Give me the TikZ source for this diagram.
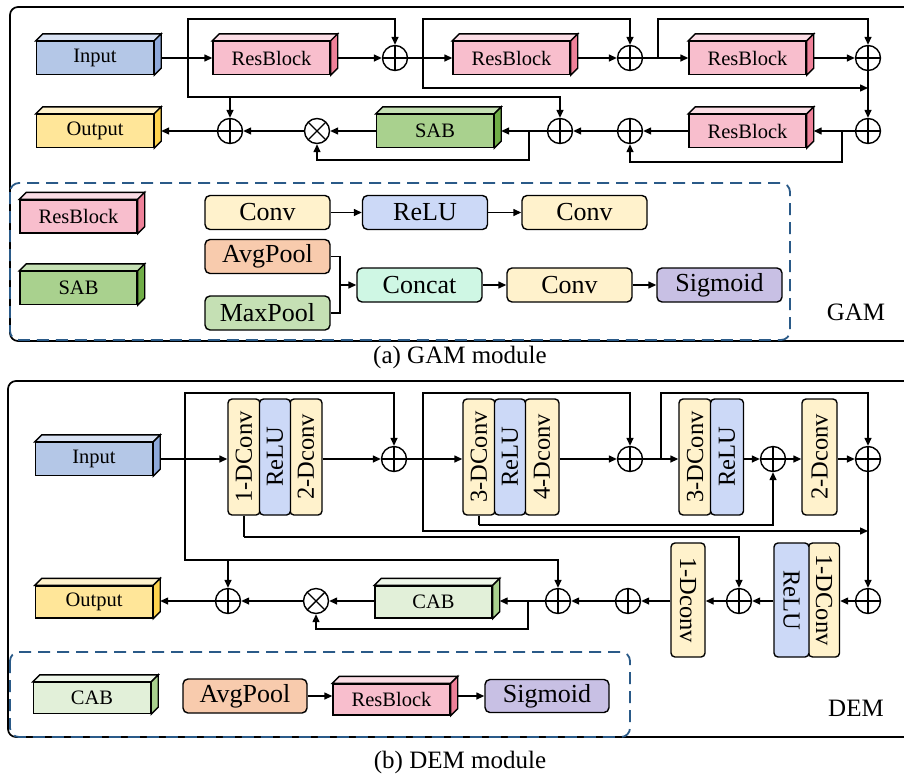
\documentclass[tikz,border=0pt]{standalone}
\usepackage{fontspec}
\setmainfont{Liberation Serif}
\usetikzlibrary{arrows.meta, calc}

\definecolor{inF}{HTML}{B4C7E7}
\definecolor{inT}{HTML}{D9E2F3}
\definecolor{inS}{HTML}{8EA9DB}
\definecolor{outF}{HTML}{FFE699}
\definecolor{outT}{HTML}{FFF2CC}
\definecolor{outS}{HTML}{FFD34D}
\definecolor{rbF}{HTML}{F8BECD}
\definecolor{rbT}{HTML}{FBDDE5}
\definecolor{rbS}{HTML}{EE8199}
\definecolor{sabF}{HTML}{A9D18E}
\definecolor{sabT}{HTML}{C5E0B4}
\definecolor{sabS}{HTML}{70AD47}
\definecolor{cabF}{HTML}{E2F0D9}
\definecolor{cabT}{HTML}{EFF7EA}
\definecolor{cabS}{HTML}{A9D18E}
\definecolor{convF}{HTML}{FFF2CC}
\definecolor{reluF}{HTML}{CCD9F7}
\definecolor{avgF}{HTML}{F8CBAD}
\definecolor{maxF}{HTML}{C5E0B4}
\definecolor{catF}{HTML}{CFF7E4}
\definecolor{sigF}{HTML}{C8C0E4}
\definecolor{dashblue}{HTML}{2A5A88}

\tikzset{
  wire/.style={line width=1.4pt},
  arr/.style={wire, -{Triangle[length=8pt,width=7pt]}},
  blk/.style={draw, line width=1.4pt, minimum width=117pt, minimum height=33pt, inner sep=0pt, font=\fontsize{20.5}{22}\selectfont},
  rbox/.style={draw, line width=1.4pt, rounded corners=5pt, minimum width=125pt, minimum height=34pt, inner sep=0pt, font=\fontsize{26}{28}\selectfont},
  spart/.style={draw, line width=1.4pt, rounded corners=4pt, minimum height=116pt, inner sep=0pt, font=\fontsize{24.5}{26}\selectfont},
  oplus/.style={circle, draw, line width=1.4pt, minimum size=25pt, inner sep=0pt,
    path picture={\draw[line width=1.4pt] (path picture bounding box.north) -- (path picture bounding box.south)
      (path picture bounding box.west) -- (path picture bounding box.east);}},
  otimes/.style={circle, draw, line width=1.4pt, minimum size=25pt, inner sep=0pt,
    path picture={\draw[line width=1.4pt] ([shift={(-9pt,-9pt)}]path picture bounding box.center) -- ([shift={(9pt,9pt)}]path picture bounding box.center)
      ([shift={(-9pt,9pt)}]path picture bounding box.center) -- ([shift={(9pt,-9pt)}]path picture bounding box.center);}},
  frame/.style={line width=1.7pt, rounded corners=8pt},
  dashbox/.style={draw=dashblue, line width=1.8pt, dash pattern=on 12pt off 7pt, rounded corners=9pt},
  label/.style={font=\fontsize{25}{27}\selectfont},
}

% top and side faces of a block
\newcommand{\cubefaces}[3]{%
  \draw[line width=1.4pt, fill=#2] (#1.north west) -- ++(7pt,7pt) -- ([shift={(7pt,7pt)}]#1.north east) -- (#1.north east) -- cycle;
  \draw[line width=1.4pt, fill=#3] (#1.north east) -- ++(7pt,7pt) -- ([shift={(7pt,7pt)}]#1.south east) -- (#1.south east) -- cycle;}

\begin{document}
\begin{tikzpicture}[x=1pt, y=-1pt]
\useasboundingbox (0,0) rectangle (904,774);

%% (a) GAM
\draw[frame] (904,7) -- (10,7) -- (10,341) -- (904,341);
\draw[dashbox] (10,183) rectangle (790,340);

\node[blk, fill=inF] (inA) at (95,58) {Input};
\node[blk, fill=rbF] (rb1) at (271.5,58) {ResBlock};
\node[oplus] (p1) at (395,58) {};
\node[blk, fill=rbF] (rb2) at (511.5,58) {ResBlock};
\node[oplus] (p2) at (630,58) {};
\node[blk, fill=rbF] (rb3) at (747.5,58) {ResBlock};
\node[oplus] (p3) at (868,58) {};
\node[oplus] (p4) at (868,131) {};
\node[blk, fill=rbF] (rb4) at (747.5,131) {ResBlock};
\node[oplus] (p5) at (630,131) {};
\node[oplus] (p6) at (560,131) {};
\node[blk, fill=sabF] (sab) at (435,131) {SAB};
\node[otimes] (tA) at (317,131) {};
\node[oplus] (p7) at (230,131) {};
\node[blk, fill=outF] (outA) at (95,131) {Output};
\cubefaces{inA}{inT}{inS}
\cubefaces{rb1}{rbT}{rbS}
\cubefaces{rb2}{rbT}{rbS}
\cubefaces{rb3}{rbT}{rbS}
\cubefaces{rb4}{rbT}{rbS}
\cubefaces{sab}{sabT}{sabS}
\cubefaces{outA}{outT}{outS}

\coordinate (topA) at (0,19);
\coordinate (railA) at (0,97);
\coordinate (railB) at (0,88);
\coordinate (loopA) at (0,162);
\coordinate (loopB) at (0,160);
\coordinate (ja) at (188,58);
\coordinate (jb) at (423,58);
\coordinate (jc) at (658,58);
\coordinate (jd) at (842,131);
\coordinate (je) at (529,131);

\draw[arr] ([xshift=7pt]inA.east) -- (rb1.west);
\draw[arr] (ja) -- (ja|-topA) -| (p1.north);
\draw[arr] (ja) -- (ja|-railA) -| (p6.north);
\draw[arr] (p7|-railA) -- (p7.north);
\draw[arr] ([xshift=7pt]rb1.east) -- (p1.west);
\draw[arr] (p1.east) -- (rb2.west);
\draw[arr] (jb) -- (jb|-topA) -| (p2.north);
\draw[arr] (jb) -- (jb|-railB) -- (p3|-railB);
\draw[arr] ([xshift=7pt]rb2.east) -- (p2.west);
\draw[arr] (p2.east) -- (rb3.west);
\draw[arr] (jc) -- (jc|-topA) -| (p3.north);
\draw[arr] ([xshift=7pt]rb3.east) -- (p3.west);
\draw[arr] (p3.south) -- (p4.north);
\draw[arr] (p4.west) -- ([xshift=7pt]rb4.east);
\draw[arr] (jd) -- (jd|-loopA) -| (p5.south);
\draw[arr] (rb4.west) -- (p5.east);
\draw[arr] (p5.west) -- (p6.east);
\draw[arr] (p6.west) -- ([xshift=7pt]sab.east);
\draw[arr] (je) -- (je|-loopB) -| (tA.south);
\draw[arr] (sab.west) -- (tA.east);
\draw[arr] (tA.west) -- (p7.east);
\draw[arr] (p7.west) -- ([xshift=7pt]outA.east);

% legend (a)
\node[blk, fill=rbF] (lrb) at (78.5,216.5) {ResBlock};
\node[blk, fill=sabF] (lsab) at (78.5,288) {SAB};
\cubefaces{lrb}{rbT}{rbS}
\cubefaces{lsab}{sabT}{sabS}
\node[rbox, fill=convF] (c1) at (267.5,212.5) {Conv};
\node[rbox, fill=reluF] (r1) at (425,212.5) {ReLU};
\node[rbox, fill=convF] (c2) at (584.5,212.5) {Conv};
\node[rbox, fill=avgF] (avg) at (267.5,256.5) {AvgPool};
\node[rbox, fill=maxF] (mx) at (267.5,313) {MaxPool};
\node[rbox, fill=catF] (cat) at (419.5,285) {Concat};
\node[rbox, fill=convF] (c3) at (569.5,285) {Conv};
\node[rbox, fill=sigF] (sig) at (719.5,285) {Sigmoid};
\coordinate (jf) at (340,285);
\draw[arr] (c1) -- (r1);
\draw[arr] (r1) -- (c2);
\draw[wire] (avg.east) -| (jf) |- (mx.east);
\draw[arr] (jf) -- (cat.west);
\draw[arr] (cat) -- (c3);
\draw[arr] (c3) -- (sig);

\node[label] (gam) at (856,312) {GAM};
\node[font=\fontsize{25}{27}\selectfont] (capA) at (460,357) {(a) GAM module};

%% (b) DEM
\draw[frame] (904,381) -- (8,381) -- (8,737) -- (904,737);
\draw[dashbox] (10,652) rectangle (630,737);

\node[blk, fill=inF] (inB) at (94,459) {Input};
\node[spart, fill=convF, minimum width=32pt] (s1a) at (244,457) {\rotatebox{90}{1-DConv}};
\node[spart, fill=convF, minimum width=32pt] (s1c) at (306,457) {\rotatebox{90}{2-Dconv}};
\node[spart, fill=reluF, minimum width=31pt] (s1b) at (275,457) {\rotatebox{90}{ReLU}};
\node[oplus] (q1) at (394,459) {};
\node[spart, fill=convF, minimum width=32pt] (s2a) at (479,457) {\rotatebox{90}{3-DConv}};
\node[spart, fill=convF, minimum width=34pt] (s2c) at (542,457) {\rotatebox{90}{4-Dconv}};
\node[spart, fill=reluF, minimum width=31pt] (s2b) at (510,457) {\rotatebox{90}{ReLU}};
\node[oplus] (q2) at (630,459) {};
\node[spart, fill=convF, minimum width=32pt] (s3a) at (695,457) {\rotatebox{90}{3-DConv}};
\node[spart, fill=reluF, minimum width=33pt] (s3b) at (727,457) {\rotatebox{90}{ReLU}};
\node[oplus] (q3) at (773,459) {};
\node[spart, fill=convF, minimum width=35pt] (dc2) at (819.5,457) {\rotatebox{90}{2-Dconv}};
\node[oplus] (q4) at (868,459) {};

\node[oplus] (q5) at (868,601) {};
\node[spart, fill=convF, minimum width=31pt, minimum height=114pt] (s4b) at (824,600) {\rotatebox{-90}{1-DConv}};
\node[spart, fill=reluF, minimum width=35pt, minimum height=114pt] (s4a) at (791.5,600) {\rotatebox{-90}{ReLU}};
\node[oplus] (q6) at (739,601) {};
\node[spart, fill=convF, minimum width=34pt, minimum height=114pt] (dc1) at (688,600) {\rotatebox{-90}{1-Dconv}};
\node[oplus] (q7) at (628,601) {};
\node[oplus] (q8) at (558,601) {};
\node[blk, fill=cabF, minimum height=32pt] (cab) at (433.5,602) {CAB};
\node[otimes] (tB) at (316,601) {};
\node[oplus] (q9) at (228,601) {};
\node[blk, fill=outF, minimum height=32pt] (outB) at (94,602) {Output};
\cubefaces{inB}{inT}{inS}
\cubefaces{cab}{cabT}{cabS}
\cubefaces{outB}{outT}{outS}

\coordinate (topB) at (0,393);
\coordinate (railC) at (0,560);
\coordinate (railD) at (0,531);
\coordinate (railE) at (0,537);
\coordinate (railF) at (0,525);
\coordinate (loopC) at (0,629);
\coordinate (jg) at (185,459);
\coordinate (jh) at (423,459);
\coordinate (ji) at (661,459);
\coordinate (jk) at (528,601);

\draw[arr] ([xshift=7pt]inB.east) -- (s1a.west|-jg);
\draw[arr] (jg) -- (jg|-topB) -| (q1.north);
\draw[arr] (jg) -- (jg|-railC) -| (q8.north);
\draw[arr] (q9|-railC) -- (q9.north);
\draw[arr] (s1c.east|-q1) -- (q1.west);
\draw[arr] (q1.east) -- (s2a.west|-q1);
\draw[arr] (jh) -- (jh|-topB) -| (q2.north);
\draw[arr] (jh) -- (jh|-railD) -- (q4|-railD);
\draw[wire] (s1a.south) -- (s1a|-railE);
\draw[arr] (s1a|-railE) -| (q6.north);
\draw[wire] (s2a.south) -- (s2a|-railF);
\draw[arr] (s2a|-railF) -| (q3.south);
\draw[arr] (s2c.east|-q2) -- (q2.west);
\draw[arr] (q2.east) -- (s3a.west|-q2);
\draw[arr] (ji) -- (ji|-topB) -| (q4.north);
\draw[arr] (s3b.east|-q3) -- (q3.west);
\draw[arr] (q3.east) -- (dc2.west|-q3);
\draw[arr] (dc2.east|-q4) -- (q4.west);
\draw[arr] (q4.south) -- (q5.north);
\draw[arr] (q5.west) -- (s4b.east|-q5);
\draw[arr] (s4a.west|-q6) -- (q6.east);
\draw[arr] (q6.west) -- (dc1.east|-q6);
\draw[arr] (dc1.west|-q7) -- (q7.east);
\draw[arr] (q7.west) -- (q8.east);
\draw[arr] (q8.west) -- ([xshift=7pt]cab.east|-q8);
\draw[arr] (jk) -- (jk|-loopC) -| (tB.south);
\draw[arr] (cab.west|-tB) -- (tB.east);
\draw[arr] (tB.west) -- (q9.east);
\draw[arr] (q9.west) -- ([xshift=7pt]outB.east|-q9);

% legend (b)
\node[blk, fill=cabF, minimum height=31pt] (lcab) at (92,698) {CAB};
\node[rbox, fill=avgF, minimum width=124pt] (avgB) at (245,696) {AvgPool};
\node[blk, fill=rbF, minimum height=31pt] (lrbB) at (391.5,699.5) {ResBlock};
\node[rbox, fill=sigF, minimum width=124pt, minimum height=33pt] (sigB) at (547,696) {Sigmoid};
\cubefaces{lcab}{cabT}{cabS}
\cubefaces{lrbB}{rbT}{rbS}
\draw[arr] (avgB.east) -- (lrbB.west|-avgB);
\draw[arr] ([xshift=7pt]lrbB.east|-sigB) -- (sigB.west);

\node[label] (dem) at (856,708) {DEM};
\node[font=\fontsize{25}{27}\selectfont] (capB) at (460,762) {(b) DEM module};
\end{tikzpicture}
\end{document}
